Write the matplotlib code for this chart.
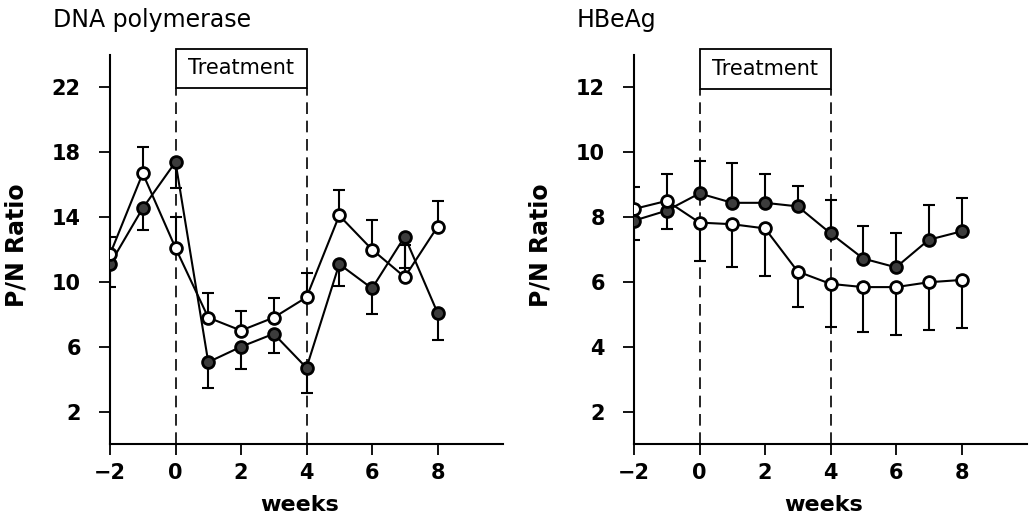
import numpy as np
import matplotlib.pyplot as plt
from matplotlib.patches import Rectangle

weeks = np.arange(-2, 9)

# DNA polymerase P/N ratio; open circles carry upper bars, filled circles lower bars
dna_open = [11.7, 16.7, 12.1, 7.8, 7.0, 7.8, 9.05, 14.1, 12.0, 10.3, 13.4]
dna_open_bar = [12.8, 18.35, 14.0, 9.3, 8.2, 9.0, 10.55, 15.7, 13.8, 12.3, 15.0]
dna_filled = [11.1, 14.55, 17.4, 5.05, 6.0, 6.8, 4.7, 11.1, 9.6, 12.8, 8.1]
dna_filled_bar = [9.7, 13.2, 15.8, 3.45, 4.65, 5.6, 3.15, 9.75, 8.0, 10.85, 6.4]

# HBeAg P/N ratio; open circles carry lower bars, filled circles upper bars
hbe_open = [8.25, 8.5, 7.83, 7.78, 7.65, 6.32, 5.94, 5.84, 5.84, 5.99, 6.06]
hbe_open_bar = [7.3, 7.62, 6.63, 6.45, 6.17, 5.22, 4.6, 4.44, 4.35, 4.52, 4.58]
hbe_filled = [7.89, 8.2, 8.73, 8.44, 8.44, 8.33, 7.5, 6.72, 6.45, 7.3, 7.56]
hbe_filled_bar = [8.94, 9.32, 9.73, 9.66, 9.32, 8.96, 8.53, 7.73, 7.5, 8.38, 8.6]

x_ticks = [-2, 0, 2, 4, 6, 8]
x_labels = ['\u22122', '0', '2', '4', '6', '8']
dna_yticks = [2, 6, 10, 14, 18, 22]
hbe_yticks = [2, 4, 6, 8, 10, 12]

plt.rcParams['font.family'] = 'DejaVu Sans'

fig = plt.figure(figsize=(10.34, 5.24), dpi=100)
W, H = 1034.0, 524.0


def series(ax, y, bar_end, filled):
    ax.vlines(weeks, y, bar_end, color='black', lw=1.5, zorder=2)
    ax.plot(weeks, bar_end, ls='none', marker='_', ms=9, mew=1.5,
            color='black', zorder=2)
    face = '#3c3c3c' if filled else 'white'
    ax.plot(weeks, y, color='black', lw=1.5, marker='o', ms=8.5,
            mfc=face, mec='black', mew=2.0, zorder=3)


def panel(left, ylim, yticks, title, opn, opn_bar, fil, fil_bar, box):
    ax = fig.add_axes([left / W, 1 - 444 / H, 393 / W, 389 / H])
    ax.set_xlim(-2, 10)
    ax.set_ylim(*ylim)
    for s in ['top', 'right']:
        ax.spines[s].set_visible(False)
    for s in ['left', 'bottom']:
        ax.spines[s].set_linewidth(1.5)
    ax.set_xticks(x_ticks)
    ax.set_xticklabels(x_labels)
    ax.set_yticks(yticks)
    ax.tick_params(axis='both', direction='out', length=8, width=1.3,
                   labelsize=15)
    ax.tick_params(axis='y', pad=13)
    ax.tick_params(axis='x', pad=6)
    for lab in ax.get_xticklabels() + ax.get_yticklabels():
        lab.set_fontweight('bold')

    # treatment period
    ax.vlines([0, 4], ylim[0], box[0], colors='black', lw=1.2,
              linestyles=(0, (7, 4)), zorder=1)
    ax.add_patch(Rectangle((0, box[0]), 4, box[1] - box[0], fill=False,
                           ec='black', lw=1.3, clip_on=False))
    ax.text(2, (box[0] + box[1]) / 2, 'Treatment', ha='center', va='center',
            fontsize=15, clip_on=False)

    series(ax, fil, fil_bar, True)
    series(ax, opn, opn_bar, False)

    fig.text((left - 57) / W, 1 - 20 / H, title, fontsize=17, va='center')
    fig.text((left - 93) / W, 1 - 245 / H, 'P/N Ratio', fontsize=17,
             fontweight='bold', rotation=90, ha='center', va='center')
    fig.text((left + 190) / W, 1 - 505 / H, 'weeks', fontsize=16,
             fontweight='bold', ha='center', va='center')
    return ax


panel(110, (0, 24), dna_yticks, 'DNA polymerase',
      dna_open, dna_open_bar, dna_filled, dna_filled_bar, (21.94, 24.4))
panel(634, (1, 13), hbe_yticks, 'HBeAg',
      hbe_open, hbe_open_bar, hbe_filled, hbe_filled_bar, (11.94, 13.2))

fig.savefig('out.png', dpi=100)
